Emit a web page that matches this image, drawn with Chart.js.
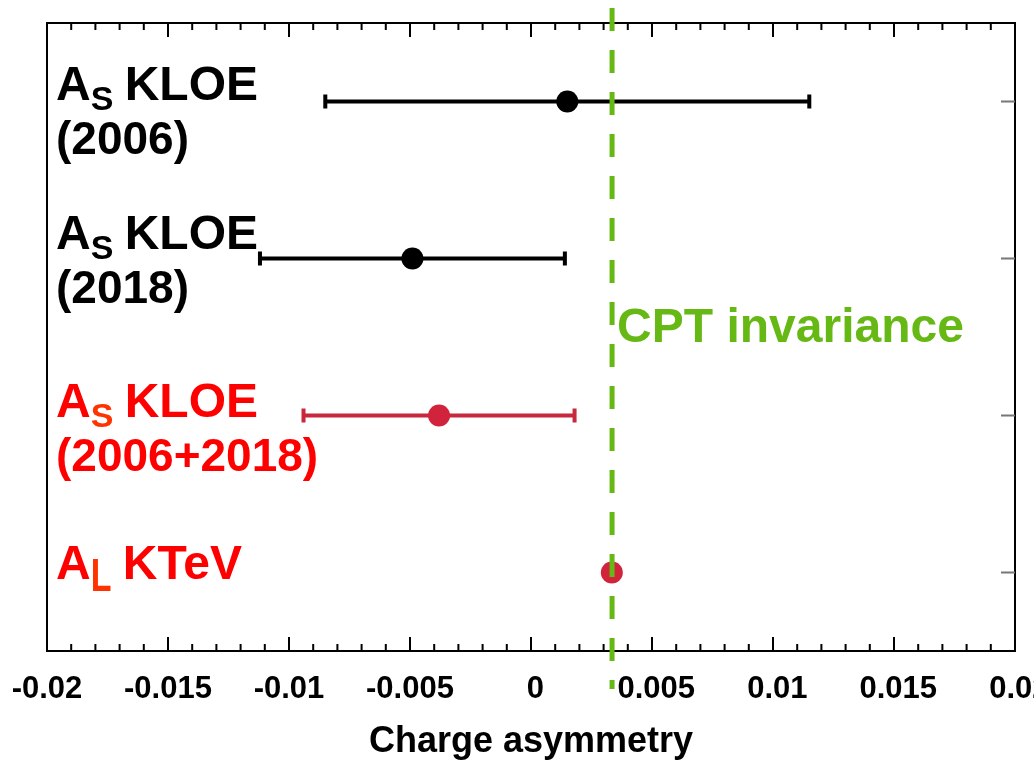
<!DOCTYPE html>
<html>
<head>
<meta charset="utf-8">
<script src="https://cdn.jsdelivr.net/npm/chart.js@4.4.0/dist/chart.umd.min.js"></script>
<style>
  html, body { margin: 0; padding: 0; background: #fff; }
  canvas { display: block; }
</style>
</head>
<body>
<canvas id="chart" width="1034" height="762"></canvas>
<script>
// measurements (top to bottom)
const rows = [1, 2, 3, 4];
const labelMain = ['A', 'A', 'A', 'A'];
const labelSub = ['S', 'S', 'S', 'L'];
const labelRest = [' KLOE', ' KLOE', ' KLOE', ' KTeV'];
const labelSecond = ['(2006)', '(2018)', '(2006+2018)', ''];
const centralValues = [0.0015, -0.0049, -0.0038, 0.00334];
const errLow = [0.0100, 0.0063, 0.0056, 0.00006];
const errHigh = [0.0100, 0.0063, 0.0056, 0.00006];

// CPT invariance reference
const cptValue = 0.00335;
const cptLabel = 'CPT invariance';

// x axis
const xTickValues = [-0.02, -0.015, -0.01, -0.005, 0, 0.005, 0.01, 0.015, 0.02];
const xTickLabels = ['-0.02', '-0.015', '-0.01', '-0.005', '0', '0.005', '0.01', '0.015', '0.02'];
const xMinorStep = 0.001;
const xTitle = 'Charge asymmetry';

// styles
const FONT = '"Liberation Sans", Arial, Helvetica, sans-serif';
const GREEN = '#66b814';
const pointColors = ['#000000', '#000000', '#d2233c', '#d2233c'];
const barColors = ['#000000', '#000000', '#c8283c', '#c8283c'];
const textColors = ['#000000', '#000000', '#ff0000', '#ff0000'];
const subColors = ['#000000', '#000000', '#ff3300', '#ff3300'];
const subScaleY = [1, 1, 1, 1.35];
const subDrop = [10, 10, 10, 12];
const labelShift = [-2, -10, 1, 6];

const errorBars = {
    id: 'errorBars',
    beforeDatasetsDraw(chart) {
        const ctx = chart.ctx;
        const xs = chart.scales.x;
        const ys = chart.scales.y;
        ctx.save();
        rows.forEach((r, i) => {
            const y = ys.getPixelForValue(r);
            const x1 = xs.getPixelForValue(centralValues[i] - errLow[i]);
            const x2 = xs.getPixelForValue(centralValues[i] + errHigh[i]);
            ctx.strokeStyle = barColors[i];
            ctx.lineWidth = 4;
            ctx.beginPath();
            ctx.moveTo(x1, y);
            ctx.lineTo(x2, y);
            ctx.stroke();
            ctx.beginPath();
            ctx.moveTo(x1, y - 7);
            ctx.lineTo(x1, y + 7);
            ctx.moveTo(x2, y - 7);
            ctx.lineTo(x2, y + 7);
            ctx.stroke();
        });
        ctx.restore();
    }
};

const frameAndLabels = {
    id: 'frameAndLabels',
    afterDraw(chart) {
        const ctx = chart.ctx;
        const a = chart.chartArea;
        const xs = chart.scales.x;
        const ys = chart.scales.y;
        ctx.save();

        // frame
        ctx.strokeStyle = '#000';
        ctx.lineWidth = 2;
        ctx.strokeRect(a.left, a.top, a.right - a.left, a.bottom - a.top);

        // inward ticks, top and bottom
        ctx.beginPath();
        const nMinor = Math.round(0.04 / xMinorStep);
        for (let k = 0; k <= nMinor; k++) {
            const v = -0.02 + k * xMinorStep;
            const major = k % 5 === 0;
            const len = major ? 14 : 7;
            const px = xs.getPixelForValue(v);
            ctx.moveTo(px, a.bottom);
            ctx.lineTo(px, a.bottom - len);
            ctx.moveTo(px, a.top);
            ctx.lineTo(px, a.top + len);
        }
        ctx.stroke();

        // right side ticks at each row
        ctx.strokeStyle = '#777';
        ctx.beginPath();
        rows.forEach(r => {
            const py = ys.getPixelForValue(r);
            ctx.moveTo(a.right, py);
            ctx.lineTo(a.right - 14, py);
        });
        ctx.stroke();

        // row labels
        ctx.textAlign = 'left';
        ctx.textBaseline = 'alphabetic';
        rows.forEach((r, i) => {
            const base = ys.getPixelForValue(r) + labelShift[i];
            let x = 56;
            ctx.fillStyle = textColors[i];
            ctx.font = 'bold 48px ' + FONT;
            ctx.fillText(labelMain[i], x, base);
            x += ctx.measureText(labelMain[i]).width;
            ctx.font = 'bold 34px ' + FONT;
            ctx.fillStyle = subColors[i];
            ctx.save();
            ctx.translate(x, base + subDrop[i]);
            ctx.scale(1, subScaleY[i]);
            ctx.fillText(labelSub[i], 0, 0);
            ctx.restore();
            x += ctx.measureText(labelSub[i]).width - 2;
            ctx.font = 'bold 48px ' + FONT;
            ctx.fillStyle = textColors[i];
            ctx.fillText(labelRest[i], x, base);
            if (labelSecond[i]) {
                ctx.font = 'bold 46px ' + FONT;
                ctx.fillText(labelSecond[i], 56, base + 54);
            }
        });

        // CPT line, runs past the frame
        const cx = xs.getPixelForValue(cptValue);
        ctx.strokeStyle = GREEN;
        ctx.lineWidth = 5;
        ctx.setLineDash([23, 19]);
        ctx.lineDashOffset = 34;
        ctx.beginPath();
        ctx.moveTo(cx, 0);
        ctx.lineTo(cx, 689);
        ctx.stroke();
        ctx.setLineDash([]);

        ctx.fillStyle = GREEN;
        ctx.font = 'bold 48px ' + FONT;
        ctx.fillText(cptLabel, cx + 5, 342);

        ctx.restore();
    }
};

const ctx = document.getElementById('chart').getContext('2d');
const myChart = new Chart(ctx, {
    type: 'scatter',
    data: {
        datasets: [{
            data: rows.map((r, i) => ({ x: centralValues[i], y: r })),
            pointRadius: 11,
            pointHoverRadius: 11,
            pointBackgroundColor: pointColors,
            pointBorderWidth: 0,
            borderWidth: 0
        }]
    },
    options: {
        responsive: false,
        animation: false,
        devicePixelRatio: 1,
        layout: { padding: { left: 47, right: 19, top: 23, bottom: 0 } },
        plugins: {
            legend: { display: false },
            tooltip: { enabled: false }
        },
        scales: {
            x: {
                type: 'linear',
                min: -0.02,
                max: 0.02,
                afterBuildTicks: s => { s.ticks = xTickValues.map(v => ({ value: v })); },
                afterFit: s => { s.paddingLeft = 0; s.paddingRight = 0; s.height = 111; },
                grid: { display: false, drawTicks: false },
                border: { display: false },
                ticks: {
                    padding: 20,
                    color: '#000',
                    maxRotation: 0,
                    autoSkip: false,
                    font: { family: FONT, size: 31, weight: 'bold' },
                    // positive labels sit a little right of their tick, as in the original
                    callback: (v, i) => (xTickValues[i] >= 0 ? ' ' : '') + xTickLabels[i]
                },
                title: {
                    display: true,
                    text: xTitle,
                    color: '#000',
                    font: { family: FONT, size: 36, weight: 'bold' },
                    padding: { top: 0, bottom: -2 }
                }
            },
            y: {
                display: false,
                min: 0.5,
                max: 4.5,
                reverse: true
            }
        }
    },
    plugins: [errorBars, frameAndLabels]
});
</script>
</body>
</html>
